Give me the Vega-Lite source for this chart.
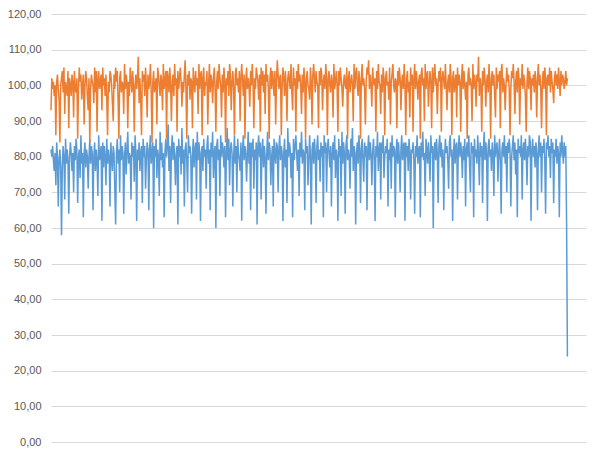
{
 "$schema": "https://vega.github.io/schema/vega-lite/v6.json",
 "width": 535,
 "height": 428,
 "autosize": {"type": "none"},
 "padding": {"left": 51, "top": 14, "right": 14, "bottom": 15},
 "background": "#ffffff",
 "config": {"view": {"stroke": null}, "font": "Liberation Sans"},
 "datasets": {
  "o": [93,102,99,101,97,100,86,101,103,99,96,84,100,102,104,98,105,92,101,99,
97,104,88,102,100,97,103,101,91,104,99,98,102,85,99,105,101,103,96,100,
103,89,100,104,102,97,93,102,84,99,103,101,100,95,105,98,104,87,102,104,
99,101,103,93,105,100,102,97,103,96,86,101,98,104,103,100,95,90,103,99,
105,101,104,96,85,102,104,98,101,100,92,106,99,103,101,88,101,97,105,102,
98,104,100,87,100,103,99,102,108,95,102,96,86,104,101,103,97,105,100,91,
103,99,101,106,98,84,101,104,98,100,102,89,105,103,100,97,103,101,93,106,
99,101,104,85,104,102,98,105,100,90,101,103,97,106,100,102,87,104,99,102,
105,101,94,101,98,103,107,99,85,103,100,104,96,102,101,88,105,101,98,104,
100,102,92,106,99,103,104,86,102,105,97,101,100,104,89,100,106,98,103,101,
95,102,105,99,87,101,104,99,106,102,100,91,103,98,105,101,84,102,100,104,
97,106,103,93,101,104,99,86,103,105,100,102,98,104,90,102,106,101,97,103,
85,101,105,99,102,100,94,104,100,106,101,88,102,99,105,103,101,96,103,87,
105,100,104,98,103,92,106,101,103,99,85,102,105,99,104,101,97,104,89,101,
107,103,99,102,103,86,100,105,102,97,104,100,90,102,104,101,99,106,98,93,
105,100,102,87,104,99,106,101,103,100,92,103,98,105,101,85,102,104,100,99,
96,105,101,89,103,106,102,98,104,101,100,88,104,100,105,103,93,101,103,99,
106,102,86,102,104,100,98,103,101,91,106,99,101,104,100,87,104,100,105,102,
99,94,101,103,100,99,105,85,102,104,98,101,103,100,90,106,99,103,105,100,
97,104,101,85,102,106,100,102,99,89,101,105,103,107,99,103,100,94,105,101,
100,102,87,104,99,106,101,100,92,103,98,105,102,86,102,104,100,101,96,105,
89,101,103,106,100,98,102,101,88,104,100,105,102,93,101,103,99,106,100,86,
102,104,98,101,91,105,100,103,87,102,106,99,104,101,96,101,103,85,103,105,
100,102,90,106,99,103,104,94,100,104,101,88,105,98,103,106,100,102,92,100,
104,101,105,87,102,104,101,99,106,100,93,101,103,98,106,102,86,102,104,98,
101,103,91,105,100,103,101,87,102,106,99,104,100,96,101,85,103,105,100,102,
100,90,106,99,103,101,94,103,101,108,97,102,100,87,104,100,105,102,94,101,
103,98,106,101,85,102,104,100,103,97,91,105,99,103,101,104,88,104,106,98,
102,100,93,100,105,101,103,99,86,99,104,102,106,101,92,101,104,98,105,102,
89,102,100,106,99,103,101,97,87,101,105,99,104,102,93,102,100,103,98,104,
101,91,102,106,100,103,99,88,101,104,99,105,102,86,102,103,100,105,98,104,
101,99,95,102,104,100,103,99,105,101,97,104,100,103,102,99,101,104,100,102],
  "b": [82,80,83,79,76,81,72,84,80,66,79,82,77,58,77,83,80,68,85,78,
82,79,64,80,84,81,76,81,70,83,79,85,82,67,80,82,74,86,78,81,
63,81,84,77,82,80,71,80,85,78,83,81,65,80,84,76,82,79,69,86,
79,81,83,62,84,77,83,80,72,85,78,82,80,66,84,80,76,83,81,70,
61,81,85,78,82,70,86,79,83,81,64,80,84,75,82,87,78,81,80,68,
84,80,83,73,86,81,62,82,79,84,76,81,83,67,85,80,83,71,79,84,
82,65,82,86,78,81,84,60,83,80,85,74,82,80,69,87,79,84,77,81,
63,81,85,80,83,89,76,83,67,82,86,79,84,80,72,81,83,61,85,80,
83,75,88,78,82,66,82,84,79,70,86,81,83,80,64,80,85,77,82,84,
68,87,79,84,81,62,81,83,76,85,80,82,71,83,86,78,82,65,84,80,
87,74,81,83,60,83,85,79,82,69,86,80,84,82,77,83,63,81,88,79,
85,72,82,84,81,66,80,86,78,83,70,85,81,79,76,84,62,82,86,79,
83,81,73,81,87,78,84,65,84,80,85,71,82,79,84,61,83,86,80,84,
68,82,85,77,83,80,64,81,87,79,84,82,72,80,83,66,85,81,78,84,
83,70,82,86,79,83,81,62,81,85,77,82,67,88,80,84,82,74,81,63,
85,79,83,86,81,76,82,69,84,80,87,78,82,81,65,85,81,83,72,79,
86,80,61,82,84,78,85,81,67,83,86,79,82,73,84,80,83,63,86,81,
84,70,82,85,81,77,83,66,81,84,79,86,74,82,80,62,85,80,83,69,
87,78,84,81,64,83,86,79,82,80,71,85,80,88,76,83,81,61,81,84,
78,86,82,67,82,85,79,73,84,80,83,65,82,86,79,84,81,72,81,85,
80,62,83,80,87,76,82,84,68,84,81,86,74,80,83,81,85,66,82,79,
84,71,86,80,83,82,63,81,85,78,84,80,70,82,86,79,83,84,62,84,
80,83,76,85,81,68,82,81,84,79,64,83,80,86,78,82,83,63,84,80,
87,79,81,69,85,82,78,84,80,73,86,81,83,60,82,84,79,85,81,67,
83,86,80,84,77,82,65,80,85,81,83,79,71,84,86,80,82,62,81,85,
78,83,84,68,82,86,80,84,81,74,83,79,85,66,82,84,80,86,77,70,
84,81,83,63,85,80,82,78,86,81,72,84,80,83,67,82,87,79,84,81,
62,83,85,80,82,76,84,81,69,86,80,83,84,73,81,85,79,64,82,84,
80,86,78,83,70,84,81,85,82,66,80,83,86,79,84,75,82,63,85,81,
83,80,86,68,82,84,79,85,81,72,83,80,86,84,62,82,85,80,83,77,
84,81,65,82,86,80,84,70,83,81,85,79,64,84,82,86,80,83,74,85,
81,84,67,82,80,85,78,83,81,63,84,80,86,82,78,84,80,83,61,24]
 },
 "encoding": {
  "x": {"field": "i", "type": "quantitative", "scale": {"domain": [1, 663]}, "axis": null},
  "y": {"field": "data", "type": "quantitative", "scale": {"domain": [0, 120]},
   "axis": {"values": [0,10,20,30,40,50,60,70,80,90,100,110,120], "tickCount": 13, "grid": true, "gridColor": "#d9d9d9", "gridWidth": 1, "domain": false, "ticks": false, "labelColor": "#595959", "labelFontSize": 11, "labelPadding": 10, "labelOverlap": false, "title": null, "labelExpr": "replace(format(datum.value, '.2f'), '.', ',')"}}
 },
 "layer": [
  {
   "data": {"name": "b"},
   "transform": [{"window": [{"op": "row_number", "as": "i"}]}],
   "mark": {"type": "line", "color": "#5B9BD5", "strokeWidth": 1.5}
  },
  {
   "data": {"name": "o"},
   "transform": [{"window": [{"op": "row_number", "as": "i"}]}],
   "mark": {"type": "line", "color": "#ED7D31", "strokeWidth": 1.5}
  }
 ]
}
